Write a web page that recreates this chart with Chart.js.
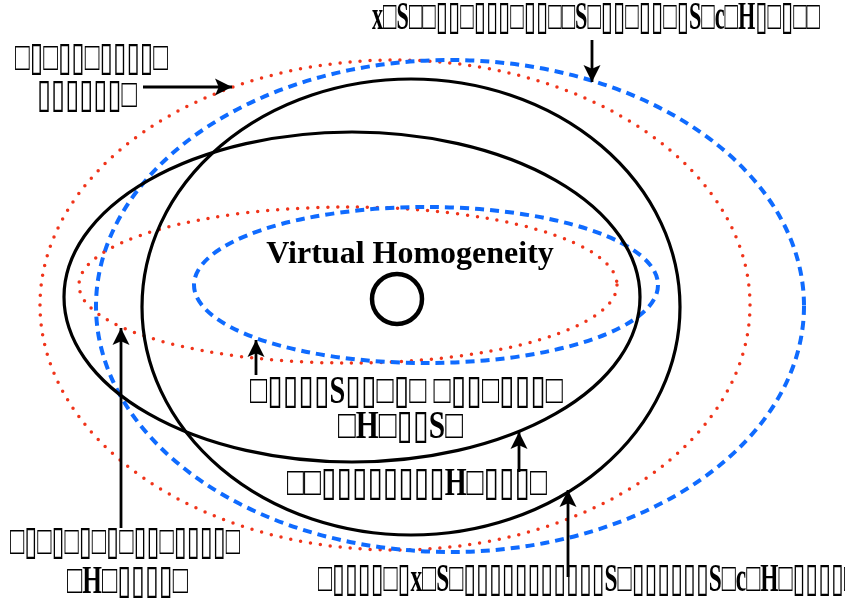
<!DOCTYPE html>
<html>
<head>
<meta charset="utf-8">
<script src="https://cdn.jsdelivr.net/npm/chart.js@4.4.1/dist/chart.umd.min.js"></script>
<style>
  body { margin: 0; background: #fff; }
  #wrap { width: 845px; height: 602px; }
</style>
</head>
<body>
<div id="wrap"><canvas id="chart"></canvas></div>
<script>
// Regions, in picture units: centre, half-width, half-height
const regionKinds = ["red", "blue", "red", "blue", "black", "black"];
const regionCx = [395, 450, 348, 426, 352, 411];
const regionCy = [305, 306, 285, 285, 297, 307];
const regionRx = [355, 354, 269, 232, 288, 269];
const regionRy = [245, 246, 78, 78, 165, 228];

// The core point in the middle
const coreX = [397];
const coreY = [299];
const coreTitle = "Virtual Homogeneity";

// Arrows: tail -> tip
const arrowFromX = [592, 143, 256, 519, 568, 121];
const arrowFromY = [40, 87, 375, 472, 577, 528];
const arrowToX = [592, 232, 256, 519, 568, 121];
const arrowToY = [82, 87, 340, 432, 490, 328];

// Labels (glyphs missing in the source, kept as boxes)
const labelTexts = [
    "x□S□□▯▯□▯▯▯□▯▯□□S□▯▯□▯▯□▯S□c□H▯□▯□□",
    "□▯□▯▯□▯▯▯▯□",
    "▯▯▯▯▯▯□",
    "□▯▯▯▯S▯▯□▯□ □▯▯□▯▯▯□",
    "□H□▯▯S□",
    "□□▯▯▯▯▯▯▯▯H□▯▯▯□",
    "□▯□▯□▯□▯□▯▯□▯▯▯▯□",
    "□H□▯▯▯▯□",
    "□▯▯▯▯□▯x□S□▯▯▯▯▯▯▯▯▯▯▯S□▯▯▯▯▯▯S□c□H□▯▯▯▯□",
];
const labelLeft = [372, 15, 37, 250, 338, 287, 10, 67, 318];
const labelBase = [29, 70, 107, 403, 438, 495, 554, 593, 591];
const labelWidth = [448, 153, 100, 313, 125, 260, 230, 121, 540];

const regionStyle = {
    red: { color: "#f0341a", width: 3.5, dash: [0, 10], cap: "round" },
    blue: { color: "#0f6bff", width: 4, dash: [9, 6], cap: "butt" },
    black: { color: "#000000", width: 3.2, dash: [], cap: "butt" },
};

const regionPlugin = {
    id: "regions",
    beforeDatasetsDraw(chart) {
        const ctx = chart.ctx;
        const xs = chart.scales.x, ys = chart.scales.y;
        ctx.save();
        regionKinds.forEach((kind, i) => {
            const st = regionStyle[kind];
            const cx = xs.getPixelForValue(regionCx[i]);
            const cy = ys.getPixelForValue(regionCy[i]);
            const rx = Math.abs(xs.getPixelForValue(regionCx[i] + regionRx[i]) - cx);
            const ry = Math.abs(ys.getPixelForValue(regionCy[i] + regionRy[i]) - cy);
            ctx.beginPath();
            ctx.ellipse(cx, cy, rx, ry, 0, 0, Math.PI * 2);
            ctx.strokeStyle = st.color;
            ctx.lineWidth = st.width;
            ctx.setLineDash(st.dash);
            ctx.lineCap = st.cap;
            ctx.stroke();
        });
        ctx.restore();
    },
    afterDatasetsDraw(chart) {
        const ctx = chart.ctx;
        const xs = chart.scales.x, ys = chart.scales.y;
        ctx.save();
        // arrow heads
        ctx.fillStyle = "#000";
        ctx.setLineDash([]);
        arrowToX.forEach((tx, i) => {
            const x1 = xs.getPixelForValue(arrowFromX[i]), y1 = ys.getPixelForValue(arrowFromY[i]);
            const x2 = xs.getPixelForValue(tx), y2 = ys.getPixelForValue(arrowToY[i]);
            const a = Math.atan2(y2 - y1, x2 - x1);
            const len = 17, half = 8.5;
            const c = Math.cos(a), s = Math.sin(a);
            ctx.beginPath();
            ctx.moveTo(x2, y2);
            ctx.lineTo(x2 - len * c + half * s, y2 - len * s - half * c);
            ctx.lineTo(x2 - len * 0.78 * c, y2 - len * 0.78 * s);
            ctx.lineTo(x2 - len * c - half * s, y2 - len * s + half * c);
            ctx.closePath();
            ctx.fill();
        });
        // title over the core
        ctx.font = "bold 32px 'Liberation Serif', 'Times New Roman', serif";
        ctx.textAlign = "center";
        ctx.textBaseline = "alphabetic";
        ctx.fillText(coreTitle, xs.getPixelForValue(410), ys.getPixelForValue(263));
        // labels
        ctx.font = "bold 40px 'Liberation Serif', 'DejaVu Sans', serif";
        ctx.textAlign = "left";
        labelTexts.forEach((t, i) => {
            ctx.fillText(t, xs.getPixelForValue(labelLeft[i]), ys.getPixelForValue(labelBase[i]), labelWidth[i]);
        });
        ctx.restore();
    },
};

const arrowSets = arrowFromX.map((fx, i) => ({
    data: [{ x: fx, y: arrowFromY[i] }, { x: arrowToX[i], y: arrowToY[i] }],
    showLine: true,
    borderColor: "#000",
    borderWidth: 2.8,
    pointRadius: 0,
}));

new Chart(document.getElementById("chart"), {
    type: "scatter",
    data: {
        datasets: [...arrowSets, {
            data: coreX.map((x, i) => ({ x: x, y: coreY[i] })),
            pointRadius: 25,
            borderWidth: 4.5,
            borderColor: "#000",
            backgroundColor: "rgba(0,0,0,0)",
        }],
    },
    options: {
        responsive: true,
        maintainAspectRatio: false,
        animation: false,
        layout: { padding: 0, autoPadding: false },
        plugins: { legend: { display: false }, tooltip: { enabled: false } },
        scales: {
            x: { type: "linear", min: 0, max: 845, display: false },
            y: { type: "linear", min: 0, max: 602, reverse: true, display: false },
        },
    },
    plugins: [regionPlugin],
});
</script>
</body>
</html>
